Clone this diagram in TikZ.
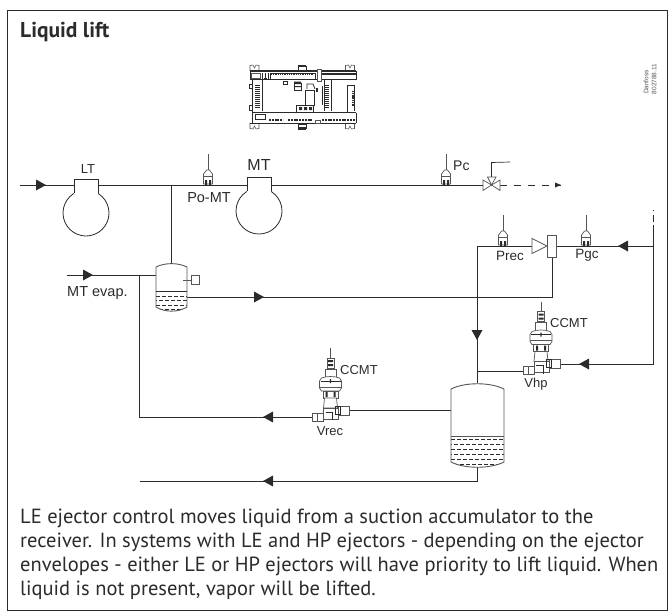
\documentclass[tikz,border=0pt]{standalone}
\usepackage{fontspec}
\setmainfont{Liberation Sans}
\newfontfamily\bodyfont{PT Sans}
\definecolor{ink}{HTML}{2B2B2B}
\definecolor{soft}{HTML}{555555}
\tikzset{
  pipe/.style={draw=ink,line width=0.9pt},
  outline/.style={draw=soft,line width=0.7pt,fill=white},
  lbl/.style={inner sep=0pt,text=ink},
  pics/tipright/.style={code={\fill[ink] (-5,-5.5) -- (5,0) -- (-5,5.5) -- cycle;}},
  pics/tipleft/.style={code={\fill[ink] (5,-5.5) -- (-5,0) -- (5,5.5) -- cycle;}},
  pics/tipdown/.style={code={\fill[ink] (-5.5,-5) -- (0,5) -- (5.5,-5) -- cycle;}},
  pics/sensor/.style={code={
    \draw[soft,line width=0.6pt] (0,-31) -- (0,-15);
    \draw[outline] (-1.5,-15) -- (1.5,-15) -- (4.5,-11) -- (4.5,-1) -- (-4.5,-1) -- (-4.5,-11) -- cycle;
    \draw[soft,line width=0.5pt] (-4.5,-9) -- (4.5,-9);
    \fill[ink] (-3,-5) rectangle (-1,0) (1,-5) rectangle (3,0);
  }},
  pics/ccvalve/.style={code={
    \draw[soft,line width=0.6pt] (0,0) -- (0,10);
    \draw[soft,fill=white,line width=0.5pt] (-3.5,10) rectangle (3.5,20);
    \fill[ink] (-2.5,12) rectangle (2.5,14) (-2.5,16) rectangle (2.5,18);
    \draw[outline] (-5.5,30) -- (-5.5,21) -- (5.5,21) -- (5.5,30);
    \draw[outline] (-9,30) .. controls (-4,28) and (4,28) .. (9,30) -- (11,33) -- (11,40) -- (9,43) -- (-9,43) -- (-11,40) -- (-11,33) -- cycle;
    \draw[ink,line width=0.8pt] (-10,33) -- (10,33);
    \draw[soft,line width=0.5pt] (-11,39) -- (11,39);
    \draw[outline] (-7.5,43) rectangle (7.5,50);
    \fill[ink] (-5,44) rectangle (-3,49) (3,44) rectangle (5,49) (-0.7,31) rectangle (0.7,35);
    \draw[outline] (-6,50) -- (6,50) -- (7,60) -- (-7,60) -- cycle;
    \draw[outline] (-7,60) rectangle (8,71);
    \draw[outline] (8,58) rectangle (19,67);
    \draw[outline] (-18,65) rectangle (-7,73);
    \draw[ink,line width=0.7pt] (5,58) rectangle (10,66);
    \draw[ink,line width=0.7pt] (-5,64) -- (2,64) -- (2,72);
    \draw[soft,line width=0.5pt] (-13,65) -- (-13,73);
  }},
  pics/compressor/.style={code={
    \draw[ink,line width=0.8pt,fill=white] (0,0) circle[radius=23];
    \fill[white] (-11.6,-34) rectangle (11.6,-18);
    \draw[ink,line width=0.8pt] (-12,-19.6) -- (-12,-34) -- (12,-34) -- (12,-19.6);
  }},
}
\begin{document}
\begin{tikzpicture}[x=1pt,y=-1pt]
\useasboundingbox (0,0) rectangle (668,611);
\draw[ink,line width=1pt] (7,10.5) -- (668,10.5);
\draw[ink,line width=1pt] (7,10) -- (7,611);
\draw[ink,line width=1pt] (667.5,10) -- (667.5,611) (7,610.5) -- (668,610.5);

\node[lbl,anchor=west,font=\bodyfont\fontsize{21.5}{24}\selectfont\bfseries] (title) at (20,32.5) {Liquid lift};
\node[lbl,anchor=north west,align=left,font=\bodyfont\fontsize{20.5}{24}\selectfont] (body) at (20,508.5) {LE ejector control moves liquid from a suction accumulator to the\\receiver. In systems with LE and HP ejectors - depending on the ejector\\envelopes - either LE or HP ejectors will have priority to lift liquid. When\\liquid is not present, vapor will be lifted.};

\node[lbl,rotate=90,soft] (dan1) at (646,82) {\fontsize{6.5}{7}\selectfont Danfoss};
\node[lbl,rotate=90,soft] (dan2) at (654,79) {\fontsize{6.5}{7}\selectfont 802788.11};

% controller
\begin{scope}[draw=ink,line width=0.6pt]
  \foreach \cx in {254.5,350}{
    \draw[soft] (\cx-4.5,71) -- (\cx-4.5,65.5) -- (\cx-1.5,65) -- (\cx,68) -- (\cx+1.5,65) -- (\cx+4.5,65.5) -- (\cx+4.5,71);
    \draw[soft] (\cx-4.5,123) -- (\cx-4.5,128.5) -- (\cx-1.5,129) -- (\cx,126) -- (\cx+1.5,129) -- (\cx+4.5,128.5) -- (\cx+4.5,123);
  }
  \draw[fill=white] (298,66) rectangle (306,70);
  \fill[ink] (298,64.5) rectangle (306,66.5);
  \draw[fill=white] (298,124) rectangle (306,128);
  \fill[ink] (298,127) rectangle (306,129.5);
  \fill[ink] (250,70) rectangle (356,72);
  \draw[line width=0.8pt] (250,79.5) -- (356,79.5);
  \draw (250,71) -- (250,80) (356,71) -- (356,80);
  \draw[soft,fill=white] (251,73) rectangle (260,78);
  \draw[line width=2pt,dash pattern=on 1pt off 1pt] (262,78.5) -- (268,78.5);
  \draw (262,73) -- (262,79) (265,73) -- (265,79) (268,73) -- (268,79);
  \draw (270,73) rectangle (315,79);
  \draw[line width=1.2pt,dash pattern=on 1pt off 0.8pt] (271,74) -- (314,74);
  \draw[soft,fill=white,line width=0.8pt] (317,69) rectangle (321,81);
  \draw[line width=1.3pt] (322,74) -- (356,74);
  \draw (249,84) rectangle (252,88);
  \draw (249,105) rectangle (252,110);
  \draw (252,80) -- (252,123);
  \draw (262,80) -- (262,111);
  \draw[line width=5pt,dash pattern=on 1pt off 1pt] (257,85) -- (257,109);
  \draw[line width=4pt,dash pattern=on 1pt off 1pt] (327,85) -- (327,109);
  \draw (324,80) -- (324,111) (331,80) -- (331,111);
  \draw (322,86) -- (322,105);
  \draw (283.5,81) rectangle (287,84);
  \draw (294,83) rectangle (301,90);
  \fill[ink] (294,81.5) rectangle (301,84) (294,86) rectangle (301,87);
  \draw[line width=0.8pt] (307,89) -- (307,84) -- (313,84) -- (315,89);
  \draw (305,90) rectangle (314,105);
  \fill[ink] (316,88) rectangle (318,92);
  \draw[line width=0.9pt,fill=white] (296,105) rectangle (313,112);
  \fill[ink] (299,107) rectangle (302,110) (304,107) rectangle (307,110) (309,107) rectangle (312,110);
  \draw[line width=1pt] (347,112) -- (347,85) -- (354,85) -- (354,111);
  \draw[line width=2pt,dash pattern=on 1.2pt off 0.6pt] (352.5,91) -- (352.5,106);
  \draw[line width=0.8pt] (252,112.5) -- (356,112.5);
  \draw[line width=1pt] (250,123) -- (356,123);
  \draw (356,112.5) -- (356,123);
  \draw (255,114) rectangle (265,119);
  \draw[line width=2.6pt,dash pattern=on 2pt off 0.8pt] (269,120) -- (283,120);
  \draw[line width=2.6pt,dash pattern=on 2pt off 0.8pt] (288,120) -- (313,120);
  \draw[line width=2.6pt,dash pattern=on 2pt off 0.8pt] (322,120) -- (356,120);
  \draw[soft,fill=white] (315,120) rectangle (320,123);
\end{scope}

% named points
\coordinate (start) at (20,185);
\coordinate (junctionA) at (171,185);
\coordinate (sensorPo) at (208,185);
\coordinate (sensorPc) at (446,185);
\coordinate (valveIn) at (483,185);
\coordinate (valveC) at (491.5,185);
\coordinate (valveOut) at (500,185);
\coordinate (outEnd) at (561,185);
\coordinate (actEnd) at (510,162);
\coordinate (smallTop) at (171,263);
\coordinate (smallLeft) at (156,275);
\coordinate (smallRight) at (187,297);
\coordinate (evapStart) at (67,275);
\coordinate (evapDrop) at (139,275);
\coordinate (vrecCorner) at (139,417);
\coordinate (vrecL) at (312.5,417);
\coordinate (vrecR) at (349.5,410.5);
\coordinate (bigLeft) at (451,410.5);
\coordinate (bigTop) at (477,383);
\coordinate (bigBottom) at (477,467);
\coordinate (bottomEnd) at (140,481);
\coordinate (liftCorner) at (477,246);
\coordinate (ejIn) at (532,246);
\coordinate (ejOut) at (556,246);
\coordinate (ejLow) at (552,257);
\coordinate (gcCorner) at (653,246);
\coordinate (gcTop) at (653,232);
\coordinate (gcEnd) at (653,210);
\coordinate (hpCorner) at (653,364);
\coordinate (vhpR) at (560,364);
\coordinate (vhpL) at (523,371);
\coordinate (bigJoin) at (477,371);

% main pipes
\draw[pipe] (start) -- (valveIn);
\draw[pipe] (junctionA) -- (smallTop);
\draw[pipe] (evapStart) -- (smallLeft);
\draw[pipe] (evapDrop) -- (vrecCorner) -- (vrecL);
\draw[pipe] (vrecR) -- (bigLeft);
\draw[pipe] (smallRight) -- (ejLow |- smallRight) -- (ejLow);
\draw[pipe] (ejIn) -- (liftCorner) -- (bigTop);
\draw[pipe] (ejOut) -- (gcCorner);
\draw[pipe] (gcTop) -- (hpCorner) -- (vhpR);
\draw[pipe] (vhpL) -- (bigJoin);
\draw[pipe,dash pattern=on 7pt off 3.5pt] (gcTop) -- (gcEnd);
\draw[pipe] (bigBottom) |- (bottomEnd);
\draw[pipe,dash pattern=on 7pt off 7pt] (valveOut) -- (outEnd);
\fill[ink] (555,182.5) -- (561,185) -- (555,187.5) -- cycle;
\draw[ink,line width=0.7pt] (valveC) -- (491.5,162.5) -- (actEnd);

% compressors
\pic at (86,213) {compressor};
\pic at (259,211) {compressor};

% sensors
\pic at (sensorPo) {sensor};
\pic at (sensorPc) {sensor};
\pic at (503,246) {sensor};
\pic at (586,246) {sensor};

% three way valve
\draw[outline] (483,180) -- (483,190.5) -- (491.5,185) -- cycle;
\draw[outline] (500,180) -- (500,190.5) -- (491.5,185) -- cycle;
\draw[outline] (487.5,177) -- (496,177) -- (491.5,185) -- cycle;

% ejector
\draw[outline] (532,238.5) -- (547,246) -- (532,253.5) -- cycle;
\draw[outline] (547,235.5) rectangle (556,257);

% small tank
\begin{scope}
  \clip (156,267) .. controls (165,262.5) and (178,262.5) .. (187,267) -- (187,307) .. controls (178,312.5) and (165,312.5) .. (156,307) -- cycle;
  \foreach \ry/\off in {296/0,300.5/3,305/0,309.5/3}{
    \draw[ink,line width=0.8pt,dash pattern=on 3.5pt off 2.5pt,dash phase=\off] (156,\ry) -- (187,\ry);
  }
\end{scope}
\draw[soft,line width=0.9pt] (156,267) .. controls (165,262.5) and (178,262.5) .. (187,267) -- (187,307) .. controls (178,312.5) and (165,312.5) .. (156,307) -- cycle;
\draw[ink,line width=1pt] (156,291.5) -- (187,291.5);
\draw[soft,line width=0.8pt] (183,280) -- (191,280);
\draw[soft,line width=0.8pt,fill=white] (191,275.5) rectangle (199,284);

% big tank
\begin{scope}
  \clip (451,389) .. controls (465,382) and (490,382) .. (504,389) -- (504,462) .. controls (490,469) and (465,469) .. (451,462) -- cycle;
  \foreach \ry/\off in {439/0,444/3,449/0,454/3,459/0,464/3}{
    \draw[ink,line width=0.7pt,dash pattern=on 3.5pt off 2.5pt,dash phase=\off] (451,\ry) -- (504,\ry);
  }
\end{scope}
\draw[soft,line width=0.9pt] (451,389) .. controls (465,382) and (490,382) .. (504,389) -- (504,462) .. controls (490,469) and (465,469) .. (451,462) -- cycle;
\draw[soft,line width=1pt] (451,436) -- (504,436);

% CC valves
\pic at (330.5,348) {ccvalve};
\pic at (541,301.5) {ccvalve};

% arrowheads
\pic at (41,185) {tipright};
\pic at (88,275) {tipright};
\pic at (259,297) {tipright};
\pic at (268,417) {tipleft};
\pic at (268,481) {tipleft};
\pic at (623,246) {tipleft};
\pic at (584,364) {tipleft};
\pic at (477,335) {tipdown};

% labels
\node[lbl,font=\fontsize{13}{15}\selectfont] (LT) at (88,169) {LT};
\node[lbl,font=\fontsize{16}{18}\selectfont] (MT) at (259,165) {MT};
\node[lbl,font=\fontsize{14.5}{16}\selectfont] (PoMT) at (209,198) {Po-MT};
\node[lbl,font=\fontsize{14}{15}\selectfont,anchor=west] (Pc) at (453,166) {Pc};
\node[lbl,font=\fontsize{13.5}{15}\selectfont] (Prec) at (510,255.5) {Prec};
\node[lbl,font=\fontsize{13.5}{15}\selectfont] (Pgc) at (587,255.5) {Pgc};
\node[lbl,font=\fontsize{14.5}{16}\selectfont,anchor=west] (evap) at (67,293) {MT evap.};
\node[lbl,font=\fontsize{13}{15}\selectfont,anchor=west] (cc1) at (340,370) {CCMT};
\node[lbl,font=\fontsize{13}{15}\selectfont,anchor=west] (cc2) at (550,323) {CCMT};
\node[lbl,font=\fontsize{13}{15}\selectfont] (Vrec) at (330,431) {Vrec};
\node[lbl,font=\fontsize{13}{15}\selectfont] (Vhp) at (536,384) {Vhp};
\end{tikzpicture}
\end{document}
